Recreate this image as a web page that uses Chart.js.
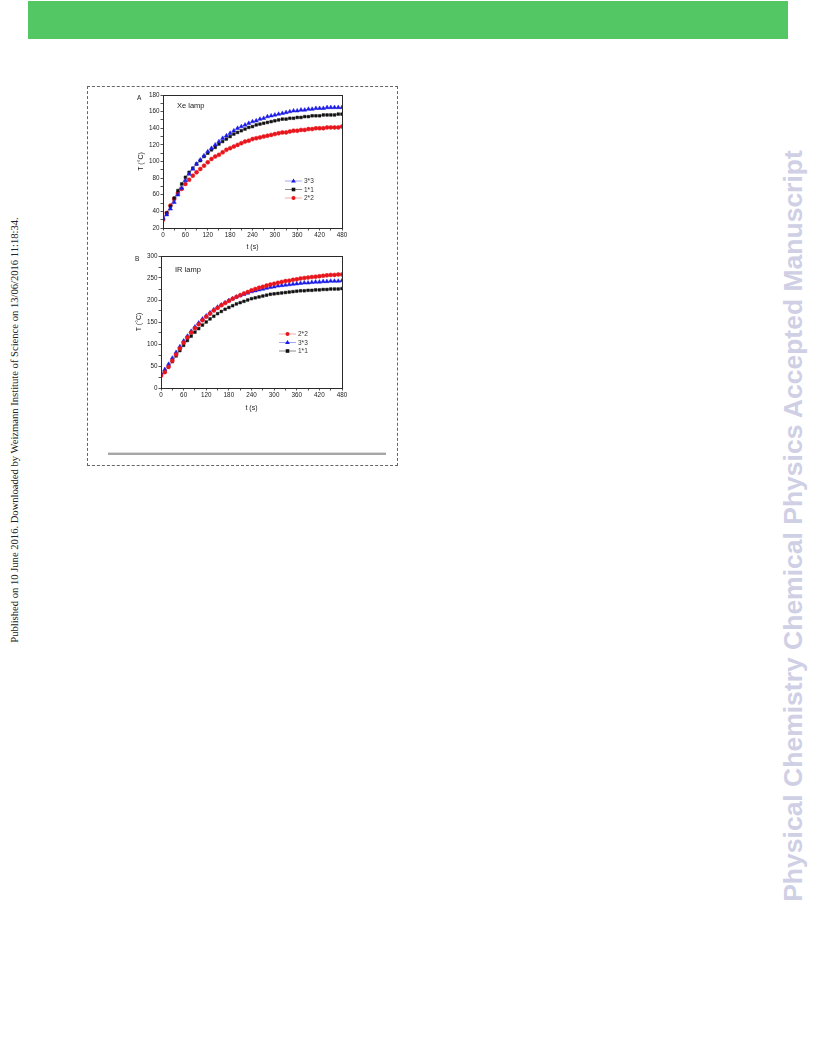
<!DOCTYPE html>
<html>
<head>
<meta charset="utf-8">
<script src="https://cdn.jsdelivr.net/npm/chart.js@4.4.1/dist/chart.umd.min.js"></script>
<style>
  html, body { margin: 0; padding: 0; background: #fff; }
  body { width: 816px; height: 1056px; position: relative; overflow: hidden; }
  .topbar { position: absolute; left: 28px; top: 1px; width: 760px; height: 38px; background: #53c764; }
  .side { position: absolute; white-space: nowrap; transform: translate(-50%, -50%) rotate(-90deg); }
  .pub { left: 14px; top: 430px; font: 10.6px "Liberation Serif", "Times New Roman", serif; color: #222; }
  .journal { left: 793px; top: 526px; font: bold 26.5px "Liberation Sans", Arial, sans-serif; color: #cfcfe5; }
  .figbox { position: absolute; left: 87px; top: 86px; width: 309px; height: 378px; border: 1px dashed #666; }
  .rule { position: absolute; left: 108px; top: 452px; width: 278px; height: 2px; background: #a6a6a6; border-top: 1px solid #dcdcdc; }
  canvas { position: absolute; }
</style>
</head>
<body>
<div class="topbar"></div>
<div class="side pub">Published on 10 June 2016. Downloaded by Weizmann Institute of Science on 13/06/2016 11:18:34.</div>
<div class="side journal">Physical Chemistry Chemical Physics Accepted Manuscript</div>
<div class="figbox"></div>
<div class="rule"></div>
<canvas id="chartA" width="250" height="170" style="left:110px;top:88px"></canvas>
<canvas id="chartB" width="250" height="170" style="left:110px;top:249px"></canvas>
<script>
// time points (s), one every 10 s
const times = [0, 10, 20, 30, 40, 50, 60, 70, 80, 90, 100, 110, 120, 130, 140, 150, 160, 170, 180, 190,
  200, 210, 220, 230, 240, 250, 260, 270, 280, 290, 300, 310, 320, 330, 340, 350, 360, 370, 380, 390,
  400, 410, 420, 430, 440, 450, 460, 470, 480];

// A: Xe lamp
const xe33 = [32, 36, 43, 51, 60, 68, 77, 85, 91, 97, 102, 107, 112, 116, 120, 124, 128, 131, 134, 137,
  140, 142, 144, 146, 148, 149, 151, 152, 154, 155, 156, 157, 158, 159, 160, 161, 161, 162, 162, 163,
  163, 164, 164, 164, 165, 165, 165, 165, 165];
const xe11 = [31, 38, 46, 56, 65, 73, 81, 87, 92, 97, 101, 106, 110, 114, 117, 121, 124, 127, 130, 133,
  135, 137, 139, 141, 142, 144, 145, 146, 147, 148, 149, 150, 151, 151, 152, 152, 153, 153, 154, 154,
  155, 155, 155, 156, 156, 156, 156, 157, 157];
const xe22 = [30, 38, 47, 55, 62, 67, 73, 78, 83, 87, 91, 95, 99, 103, 106, 108, 111, 114, 116, 118,
  120, 122, 124, 125, 127, 128, 129, 130, 131, 132, 133, 134, 135, 135, 136, 137, 137, 138, 138, 139,
  139, 140, 140, 140, 141, 141, 141, 141, 142];

// B: IR lamp
const ir22 = [28, 36, 48, 62, 76, 90, 103, 115, 126, 136, 145, 154, 162, 169, 176, 182, 188, 193, 198, 203,
  207, 211, 215, 218, 222, 225, 228, 230, 233, 235, 237, 239, 241, 243, 244, 246, 247, 249, 250, 251,
  252, 253, 254, 255, 256, 257, 257, 258, 258];
const ir33 = [33, 42, 54, 68, 81, 94, 107, 118, 129, 139, 148, 157, 164, 171, 178, 184, 189, 194, 199, 203,
  207, 210, 213, 216, 219, 221, 223, 225, 227, 229, 230, 232, 233, 234, 235, 236, 237, 238, 239, 239,
  240, 241, 241, 242, 242, 243, 243, 243, 244];
const ir11 = [30, 37, 48, 60, 73, 85, 97, 108, 118, 127, 135, 143, 150, 157, 163, 169, 174, 179, 183, 187,
  191, 194, 197, 200, 203, 205, 207, 209, 211, 213, 214, 215, 216, 217, 218, 219, 220, 221, 221, 222,
  222, 223, 223, 224, 224, 225, 225, 225, 226];

const xTicks = { min: 0, max: 480, step: 30, label: 60 };
const yTicksA = { min: 20, max: 180, step: 10, label: 20 };
const yTicksB = { min: 0, max: 300, step: 25, label: 50 };

const FONT = '"Liberation Sans", Arial, sans-serif';
const AXIS = '#2a2a2a';

const styles = {
  '3*3': { color: '#1a1ae6', line: 'rgba(60,60,240,0.45)', shape: 'triangle', r: 2.4 },
  '1*1': { color: '#111111', line: 'rgba(0,0,0,0.45)', shape: 'rect', r: 1.9 },
  '2*2': { color: '#e8161c', line: 'rgba(240,40,40,0.4)', shape: 'circle', r: 2 },
};

const makeSet = (name, values) => ({
  label: name,
  data: times.map((t, i) => ({ x: t, y: values[i] })),
  showLine: true,
  borderColor: styles[name].line,
  borderWidth: 0.8,
  pointStyle: styles[name].shape,
  pointRadius: styles[name].r,
  pointBackgroundColor: styles[name].color,
  pointBorderColor: styles[name].color,
  pointBorderWidth: 0.5,
});

// draws frame, panel letter, lamp caption and the little legend
const panelPlugin = {
  id: 'panel',
  afterDraw(chart, args, opts) {
    const ctx = chart.ctx;
    const a = chart.chartArea;
    ctx.save();
    ctx.strokeStyle = AXIS;
    ctx.lineWidth = 1;
    ctx.strokeRect(Math.round(a.left) + 0.5, Math.round(a.top) + 0.5,
      Math.round(a.right - a.left), Math.round(a.bottom - a.top));

    ctx.fillStyle = '#222';
    ctx.textBaseline = 'middle';
    ctx.font = '6.5px ' + FONT;
    ctx.fillText(opts.letter, a.left - 26, a.top + 3);
    ctx.font = '7.5px ' + FONT;
    ctx.fillText(opts.caption, a.left + 14, a.top + opts.captionDy);

    chart.data.datasets.forEach((ds, i) => {
      const st = styles[ds.label];
      const y = a.top + opts.legY + i * opts.legGap;
      const x0 = a.left + opts.legX;
      ctx.strokeStyle = st.line;
      ctx.lineWidth = 1;
      ctx.beginPath();
      ctx.moveTo(x0, y);
      ctx.lineTo(x0 + 17, y);
      ctx.stroke();
      ctx.fillStyle = st.color;
      const cx = x0 + 8.5;
      ctx.beginPath();
      if (st.shape === 'triangle') {
        ctx.moveTo(cx, y - 2.6);
        ctx.lineTo(cx + 2.4, y + 1.6);
        ctx.lineTo(cx - 2.4, y + 1.6);
        ctx.closePath();
      } else if (st.shape === 'rect') {
        ctx.rect(cx - 1.8, y - 1.8, 3.6, 3.6);
      } else {
        ctx.arc(cx, y, 2, 0, Math.PI * 2);
      }
      ctx.fill();
      ctx.fillStyle = '#333';
      ctx.font = '6.5px ' + FONT;
      ctx.fillText(ds.label, x0 + 19, y + 0.5);
    });
    ctx.restore();
  },
};

function axisTicks(t) {
  return {
    min: t.min,
    max: t.max,
    ticks: {
      stepSize: t.step,
      autoSkip: false,
      maxRotation: 0,
      padding: 1,
      color: '#222',
      font: { family: FONT, size: 6.3 },
      callback: (v) => (v % t.label === 0 ? v : ''),
    },
    grid: { drawOnChartArea: false, drawTicks: true, tickLength: 2.5, color: AXIS, lineWidth: 0.8 },
    border: { display: true, color: AXIS, width: 1 },
  };
}

function buildChart(id, sets, yT, layout, panel) {
  const xs = axisTicks(xTicks);
  xs.type = 'linear';
  xs.title = { display: true, text: 't (s)', color: '#222', font: { family: FONT, size: 7 }, padding: { top: 0, bottom: layout.xTitlePad } };
  xs.afterFit = (s) => { s.height = layout.xHeight; };
  const ys = axisTicks(yT);
  ys.type = 'linear';
  ys.title = { display: true, text: 'T (°C)', color: '#222', font: { family: FONT, size: 7 }, padding: { top: layout.yTitlePad, bottom: 0 } };
  ys.afterFit = (s) => { s.width = layout.yWidth; };

  return new Chart(document.getElementById(id), {
    type: 'scatter',
    data: { datasets: sets },
    options: {
      responsive: false,
      animation: false,
      layout: { padding: { left: 0, top: 7, right: 18, bottom: 0 } },
      plugins: { legend: { display: false }, tooltip: { enabled: false }, panel: panel },
      scales: { x: xs, y: ys },
    },
    plugins: [panelPlugin],
  });
}

buildChart('chartA',
  [makeSet('3*3', xe33), makeSet('1*1', xe11), makeSet('2*2', xe22)],
  yTicksA,
  { xHeight: 30, yWidth: 53, xTitlePad: 7, yTitlePad: 26.5 },
  { letter: 'A', caption: 'Xe lamp', captionDy: 11, legX: 122, legY: 86, legGap: 8.5 });

buildChart('chartB',
  [makeSet('2*2', ir22), makeSet('3*3', ir33), makeSet('1*1', ir11)],
  yTicksB,
  { xHeight: 31, yWidth: 51, xTitlePad: 7, yTitlePad: 24.5 },
  { letter: 'B', caption: 'IR lamp', captionDy: 14, legX: 118, legY: 78, legGap: 8.5 });
</script>
</body>
</html>
